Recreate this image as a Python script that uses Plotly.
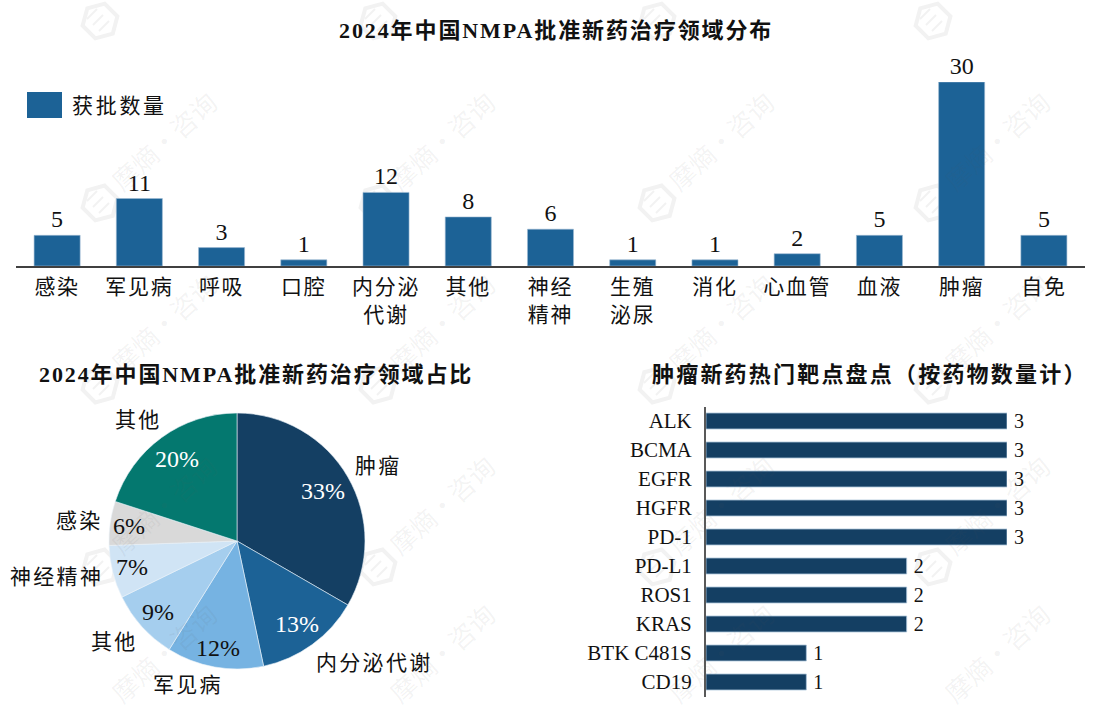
import math
import plotly.graph_objects as go

W, H = 1097, 713
SERIF = "Liberation Serif, Noto Sans CJK SC, serif"

# ---- data ----
area_categories = ["感染", "军见病", "呼吸", "口腔", "内分泌<br>代谢", "其他", "神经<br>精神",
                   "生殖<br>泌尿", "消化", "心血管", "血液", "肿瘤", "自免"]
area_values = [5, 11, 3, 1, 12, 8, 6, 1, 1, 2, 5, 30, 5]

share_labels = ["肿瘤", "内分泌代谢", "军见病", "其他", "神经精神", "感染", "其他"]
share_values = [30, 12, 11, 8, 6, 5, 18]
share_colors = ["#143F63", "#1C6296", "#76B3E2", "#A5CEEE", "#D0E4F5", "#D9D9D9", "#04786F"]
share_text_colors = ["white", "white", "#111111", "#111111", "#111111", "#111111", "white"]

target_names = ["ALK", "BCMA", "EGFR", "HGFR", "PD-1", "PD-L1", "ROS1", "KRAS", "BTK C481S", "CD19"]
target_values = [3, 3, 3, 3, 3, 2, 2, 2, 1, 1]

legend_name = "获批数量"
title_top = "2024年中国NMPA批准新药治疗领域分布"
title_left = "2024年中国NMPA批准新药治疗领域占比"
title_right = "肿瘤新药热门靶点盘点（按药物数量计）"
watermark = "摩熵·咨询"


def px(x):
    return x / W


def py(y):
    return 1 - y / H


def spaced(text, gap):
    return f'<span style="letter-spacing:{gap}px">{text}</span>'


fig = go.Figure()

fig.add_trace(go.Bar(
    x=area_categories, y=area_values, name=legend_name, xaxis="x", yaxis="y",
    marker=dict(color="#1C6296", line=dict(color="#9DBAD3", width=0.6)), width=0.56, showlegend=False,
    text=area_values, textposition="outside", cliponaxis=False, constraintext="none",
    textfont=dict(family=SERIF, size=24, color="#111111"),
))

fig.add_trace(go.Pie(
    labels=[f"{i}{n}" for i, n in enumerate(share_labels)], values=share_values, sort=False,
    direction="clockwise", rotation=0,
    domain=dict(x=[px(109), px(365)], y=[py(669), py(413)]),
    marker=dict(colors=share_colors, line=dict(color="#EAF2F8", width=0.6)),
    textinfo="none", showlegend=False,
))

fig.add_trace(go.Bar(
    x=target_values, y=target_names, orientation="h", xaxis="x2", yaxis="y2",
    marker=dict(color="#143F63", line=dict(color="#A9C3D8", width=0.8)), width=0.55,
    showlegend=False, text=target_values, texttemplate="\u2009%{text}", textposition="outside",
    cliponaxis=False, constraintext="none",
    textfont=dict(family=SERIF, size=20, color="#111111"),
))

annotations = []
shapes = []

# watermark tiles
WM = "#F2F2F2"
for iy in [21, 203, 385, 567, 749]:
    for ix in [100, 378, 657, 933]:
        if iy > 21:
            ty = min(iy - 63, 652)
            annotations.append(dict(
                text=watermark, x=px(ix + 63), y=py(ty), xref="paper", yref="paper",
                showarrow=False, textangle=-42, xanchor="center", yanchor="middle",
                font=dict(family="Noto Sans CJK SC", size=26, color="rgba(90,90,90,0.07)"),
            ))
        if iy < 713:
            pts = [(ix + 18 * math.cos(math.radians(a)), iy + 18 * math.sin(math.radians(a)))
                   for a in (-75, -15, 45, 105, 165, 225)]
            path = "M" + " L".join(f"{px(a):.4f},{py(b):.4f}" for a, b in pts) + " Z"
            shapes.append(dict(type="path", path=path, xref="paper", yref="paper", layer="below",
                               line=dict(color=WM, width=4)))
            for off in (-6, 0, 6):
                shapes.append(dict(type="line", xref="paper", yref="paper", layer="below",
                                   x0=px(ix - 7 + off), y0=py(iy + 4 + off),
                                   x1=px(ix + 3 + off), y1=py(iy - 6 + off),
                                   line=dict(color=WM, width=2)))

# titles
for text, x, y in [(title_top, 556, 31), (title_left, 256, 374), (title_right, 870, 374)]:
    gap = 2.2 if text == title_right else 1.9
    annotations.append(dict(
        text="<b>" + spaced(text, gap) + "</b>", x=px(x), y=py(y), xref="paper", yref="paper", showarrow=False,
        xanchor="center", yanchor="middle",
        font=dict(family=SERIF, size=22, color="#111111"),
    ))

# legend key for the top chart
shapes.append(dict(type="rect", xref="paper", yref="paper", x0=px(27), x1=px(62), y0=py(118), y1=py(92),
                   fillcolor="#1C6296", line=dict(width=0)))
annotations.append(dict(text=spaced(legend_name, 2.7), x=px(70), y=py(106), xref="paper", yref="paper",
                        showarrow=False, xanchor="left", yanchor="middle",
                        font=dict(family=SERIF, size=21, color="#111111")))

# pie labels
label_pos = [(378, 466), (374, 663), (188, 685), (114, 642), (56, 577), (79, 521), (138, 420)]
pct_pos = [(323, 491), (297, 624), (218, 648), (158, 612), (132, 567), (129, 526), (177, 459)]
total = sum(share_values)
for i, (x, y) in enumerate(label_pos):
    annotations.append(dict(text=spaced(share_labels[i], 2.3), x=px(x), y=py(y), xref="paper", yref="paper",
                            showarrow=False, xanchor="center", yanchor="middle",
                            font=dict(family=SERIF, size=21, color="#111111")))
    annotations.append(dict(text=f"{round(100 * share_values[i] / total)}%", x=px(pct_pos[i][0]), y=py(pct_pos[i][1]),
                            xref="paper", yref="paper", showarrow=False, xanchor="center", yanchor="middle",
                            font=dict(family=SERIF, size=24, color=share_text_colors[i])))

fig.update_layout(
    width=W, height=H, margin=dict(l=0, r=0, t=0, b=0), paper_bgcolor="white", plot_bgcolor="rgba(0,0,0,0)",
    autosize=False, annotations=annotations, shapes=shapes,
    xaxis=dict(domain=[px(16), px(1085)], type="category", categoryorder="array", categoryarray=area_categories,
               showline=True, linecolor="#404040", linewidth=2, ticks="", showgrid=False,
               tickfont=dict(family=SERIF, size=21, color="#111111"), tickangle=0, ticklabelstandoff=1,
               anchor="y"),
    yaxis=dict(domain=[py(266), py(82)], range=[0, 30], visible=False, showgrid=False, anchor="x"),
    xaxis2=dict(domain=[px(706), px(1007)], range=[0, 3], visible=False, showgrid=False, anchor="y2"),
    yaxis2=dict(domain=[py(696.5), py(406.5)], type="category", autorange="reversed", showline=True,
                linecolor="#595959", linewidth=2, ticks="", showgrid=False, anchor="x2",
                tickfont=dict(family=SERIF, size=21, color="#111111"), ticklabelstandoff=8),
)

fig.write_html(
    "out.html",
    config=dict(displayModeBar=False),
    post_script=(
        "document.body.style.margin='0';document.documentElement.style.overflow='hidden';"
        "var s=document.createElement('style');s.textContent='.xtick text{letter-spacing:1.7px}';"
        "document.head.appendChild(s);"
    ),
)
